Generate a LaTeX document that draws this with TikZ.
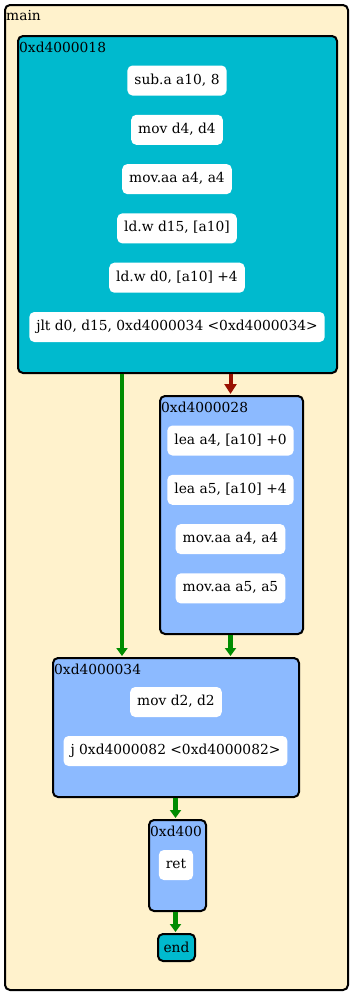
\documentclass[tikz,border=0pt]{standalone}
\usepackage{fontspec}
\setmainfont{DejaVu Serif}
\usetikzlibrary{arrows.meta}
\definecolor{clustbg}{RGB}{255,242,204}
\definecolor{entryblk}{RGB}{0,186,206}
\definecolor{plainblk}{RGB}{140,186,255}
\definecolor{takenedge}{RGB}{0,140,0}
\definecolor{falledge}{RGB}{153,17,0}
\begin{document}
\begin{tikzpicture}[x=1pt,y=-1pt,
  font=\fontsize{13.8}{16}\selectfont,
  frame/.style={draw=black,line width=2pt,rounded corners=5pt,anchor=north west,inner sep=0pt},
  blocktitle/.style={anchor=base west,inner sep=0pt},
  instr/.style={fill=white,rounded corners=5pt,inner xsep=7pt,inner ysep=0pt,minimum height=30pt,text height=10pt,text depth=3pt},
  flow/.style={line width=4.5pt,draw=takenedge,-{Triangle[width=11pt,length=8pt,fill=takenedge]},shorten >=1pt},
  branch/.style={line width=4pt,draw=falledge,-{Triangle[width=12pt,length=10pt,fill=falledge]},shorten >=1pt}]
\useasboundingbox (0,0) rectangle (351,993);

% function cluster
\node[frame,fill=clustbg,minimum width=343pt,minimum height=985pt] (main) at (4,4) {};
\node[blocktitle] (mainlbl) at (6,20) {main};

% basic block 0xd4000018
\node[frame,fill=entryblk,minimum width=319pt,minimum height=337pt] (b18) at (17,35) {};
\node[blocktitle] (b18lbl) at (19,52) {0xd4000018};
\node[instr] (i1) at (177,80.5) {sub.a a10, 8};
\node[instr] (i2) at (177,129.8) {mov d4, d4};
\node[instr] (i3) at (177,179.1) {mov.aa a4, a4};
\node[instr] (i4) at (177,228.4) {ld.w d15, [a10]};
\node[instr] (i5) at (177,277.7) {ld.w d0, [a10] +4};
\node[instr] (i6) at (177,327) {jlt d0, d15, 0xd4000034 <0xd4000034>};

% basic block 0xd4000028
\node[frame,fill=plainblk,minimum width=143pt,minimum height=238pt] (b28) at (159,395) {};
\node[blocktitle] (b28lbl) at (161,412) {0xd4000028};
\node[instr] (j1) at (230.5,440.5) {lea a4, [a10] +0};
\node[instr] (j2) at (230.5,489.8) {lea a5, [a10] +4};
\node[instr] (j3) at (230.5,539.1) {mov.aa a4, a4};
\node[instr] (j4) at (230.5,588.4) {mov.aa a5, a5};

% basic block 0xd4000034
\node[frame,fill=plainblk,minimum width=246pt,minimum height=139pt] (b34) at (52,657) {};
\node[blocktitle] (b34lbl) at (54,674) {0xd4000034};
\node[instr] (k1) at (176,702) {mov d2, d2};
\node[instr] (k2) at (175.5,751) {j 0xd4000082 <0xd4000082>};

% basic block 0xd4000082 (title clipped by the narrow box)
\node[frame,fill=plainblk,minimum width=57pt,minimum height=91pt] (b82) at (148,819) {};
\node[blocktitle] (b82lbl) at (150,836) {0xd400};
\node[instr] (m1) at (176,865) {ret};

% exit node
\node[frame,fill=entryblk,minimum width=37pt,minimum height=27pt] (endn) at (157,933) {};
\node (endlbl) at (endn.center) {end};

% control flow edges
\coordinate (leftx) at (122,0);
\coordinate (rightx) at (230.5,0);
\coordinate (midx) at (175.5,0);
\draw[flow] (b18.south -| leftx) -- (b34.north -| leftx);
\draw[branch] (b18.south -| rightx) -- (b28.north -| rightx);
\draw[flow] (b28.south -| rightx) -- (b34.north -| rightx);
\draw[flow] (b34.south -| midx) -- (b82.north -| midx);
\draw[flow] (b82.south -| midx) -- (endn.north -| midx);
\end{tikzpicture}
\end{document}
